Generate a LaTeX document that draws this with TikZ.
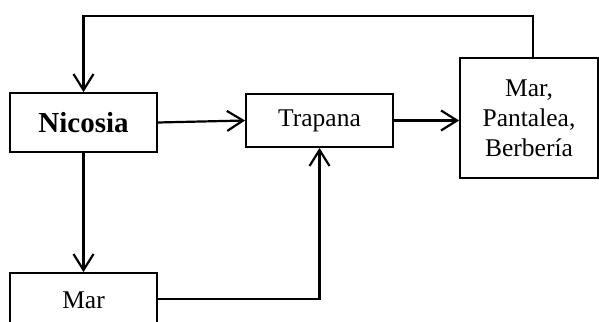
\documentclass[tikz,border=0pt]{standalone}
\usepackage{fontspec}
\setmainfont{Liberation Serif}
\usetikzlibrary{arrows.meta}
\begin{document}
\begin{tikzpicture}[x=1pt,y=-1pt,
  place/.style={draw,line width=1.8pt,inner sep=0pt,align=center,
    font=\fontsize{25.5}{30}\selectfont},
  flow/.style={line width=2.2pt,-{Straight Barb[length=16pt,width=20pt]}},
  link/.style={line width=2.2pt}]
\useasboundingbox (0,0) rectangle (599,321);
\clip (0,0) rectangle (599,321);
% places
\node[place,minimum width=147pt,minimum height=59pt,
  font=\fontsize{29}{33}\selectfont\bfseries] (nic) at (83.5,122.5) {Nicosia};
\node[place,minimum width=147pt,minimum height=53pt] (tra) at (319.5,120.5) {Trapana};
\node[place,minimum width=138pt,minimum height=120pt] (rbx) at (529,118) {Mar,\\Pantalea,\\Berbería};
\node[place,minimum width=147pt,minimum height=54pt] (mar) at (83.5,300) {Mar};
% turning points
\coordinate (rtop) at (533,58);
\coordinate (upR) at (533,16);
\coordinate (upL) at (83.5,16);
\coordinate (marR) at (157,299);
% connectors
\draw[flow] (rtop) -- (upR) -- (upL) -- (nic.north);
\draw[flow] (nic.east) -- (tra.west);
\draw[flow] (tra.east) -- (tra.east -| rbx.west);
\draw[flow] (nic.south) -- (mar.north);
\draw[flow] (marR) -| (tra.south);
\end{tikzpicture}
\end{document}
